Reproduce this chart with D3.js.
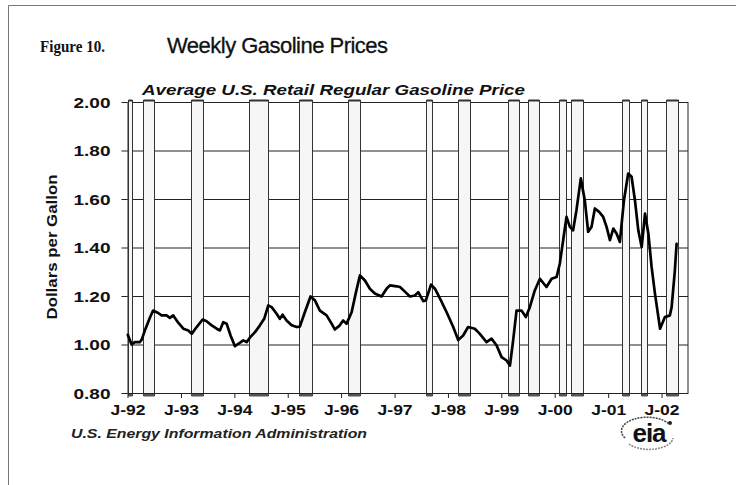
<!DOCTYPE html>
<html><head><meta charset="utf-8">
<script src="https://cdn.jsdelivr.net/npm/d3@7"></script>
<style>body{margin:0;background:#fff}svg{display:block}</style>
</head><body>
<svg id="c" width="736" height="485"></svg>
<script>
// ---- data ----
const weekDates = ["1992-01-03","1992-01-29","1992-02-20","1992-03-26","1992-04-07","1992-04-30","1992-06-02","1992-06-24","1992-07-29","1992-08-21","1992-09-24","1992-10-17","1992-11-09","1992-12-13",
"1993-01-17","1993-02-20","1993-03-15","1993-04-18","1993-05-29","1993-06-25","1993-07-30","1993-09-02","1993-09-24","1993-10-17","1993-11-09","1993-12-06",
"1994-01-05","1994-01-28","1994-03-03","1994-03-26","1994-04-17","1994-05-22","1994-06-25","1994-07-24","1994-08-21","1994-09-13","1994-10-17","1994-11-08","1994-11-27","1994-12-24",
"1995-01-28","1995-03-03","1995-03-25","1995-04-28","1995-06-06","1995-07-06","1995-08-09","1995-09-24","1995-10-28","1995-11-19","1995-12-23",
"1996-01-15","1996-02-08","1996-03-13","1996-04-12","1996-05-09","1996-06-12","1996-07-16","1996-08-19","1996-10-04","1996-11-07","1996-11-30",
"1997-01-16","1997-02-07","1997-03-16","1997-04-16","1997-05-20","1997-06-12","1997-07-16","1997-08-03","1997-09-07","1997-10-04","1997-11-07","1997-12-23",
"1998-02-06","1998-03-12","1998-04-15","1998-05-19","1998-07-04","1998-08-07","1998-09-22","1998-10-26","1998-11-30",
"1999-01-03","1999-02-06","1999-03-01","1999-03-23","1999-04-15","1999-05-19","1999-06-18","1999-07-15","1999-08-18","1999-09-22","1999-11-06","1999-12-11",
"2000-01-14","2000-02-05","2000-02-28","2000-03-22","2000-04-14","2000-05-06","2000-05-29","2000-06-28","2000-07-25","2000-08-17","2000-09-09","2000-10-02","2000-10-31","2000-11-28","2000-12-21",
"2001-01-13","2001-02-05","2001-02-28","2001-03-22","2001-04-19","2001-05-18","2001-06-10","2001-07-03","2001-07-26","2001-08-18","2001-09-10","2001-10-03","2001-10-25","2001-11-17","2001-12-22",
"2002-01-24","2002-02-27","2002-03-11","2002-04-02","2002-04-14"];
const prices = [1.04,1.00,1.01,1.01,1.02,1.06,1.11,1.14,1.13,1.12,1.12,1.11,1.12,1.09,
1.065,1.058,1.044,1.072,1.103,1.096,1.079,1.065,1.058,1.092,1.086,1.037,
0.993,1.003,1.017,1.01,1.028,1.051,1.079,1.106,1.161,1.154,1.127,1.106,1.123,1.099,
1.079,1.072,1.074,1.133,1.198,1.182,1.14,1.12,1.086,1.062,1.079,
1.099,1.086,1.133,1.216,1.285,1.264,1.23,1.21,1.198,1.23,1.244,
1.24,1.237,1.216,1.198,1.202,1.216,1.179,1.182,1.247,1.23,1.19,1.133,
1.072,1.019,1.037,1.072,1.065,1.044,1.01,1.024,0.996,
0.948,0.934,0.913,1.017,1.14,1.14,1.113,1.154,1.223,1.271,1.237,1.271,
1.278,1.333,1.43,1.526,1.485,1.471,1.554,1.685,1.595,1.465,1.485,1.561,1.547,1.526,1.485,
1.43,1.478,1.457,1.423,1.595,1.705,1.692,1.595,1.471,1.402,1.54,1.457,1.32,1.21,1.065,
1.113,1.12,1.154,1.304,1.415];
const bandStarts = ["1992-01-01","1992-04-16","1993-03-10","1994-04-10","1995-03-18","1996-02-16","1997-08-04","1998-03-10","1999-02-16","1999-07-02","2000-01-30","2000-04-21","2001-04-05","2001-08-13","2002-01-31"];
const bandEnds   = ["1992-01-31","1992-07-01","1993-05-30","1994-08-19","1995-06-17","1996-05-09","1997-09-13","1998-05-31","1999-05-02","1999-09-16","2000-03-18","2000-07-13","2001-05-23","2001-09-24","2002-04-23"];
const yTicks = [0.80,1.00,1.20,1.40,1.60,1.80,2.00];
const xTickDates = ["1992-01-01","1993-01-01","1994-01-01","1995-01-01","1996-01-01","1997-01-01","1998-01-01","1999-01-01","2000-01-01","2001-01-01","2002-01-01"];
const xTickLabels = ["J-92","J-93","J-94","J-95","J-96","J-97","J-98","J-99","J-00","J-01","J-02"];

// ---- chart ----
const parse = d3.timeParse("%Y-%m-%d");
const svg = d3.select("#c");
const L = 127.5, R = 688, T = 102, B = 393;
const x = d3.scaleTime().domain([parse("1992-01-01"), parse("2002-07-01")]).range([L, R]);
const y = d3.scaleLinear().domain([0.8, 2.0]).range([B, T]);
const SANS = "'Liberation Sans', Arial, sans-serif";

svg.append("rect").attr("width",736).attr("height",485).attr("fill","#fff");
// page frame
svg.append("path").attr("d","M8.5,485V5.5H736").attr("fill","none").attr("stroke","#777").attr("stroke-width",1);

// titles
svg.append("text").attr("x",40).attr("y",52).attr("font-family","'Liberation Serif', 'Times New Roman', serif")
  .attr("font-weight","bold").attr("font-size",17).attr("textLength",65).attr("lengthAdjust","spacingAndGlyphs")
  .attr("fill","#111").text("Figure 10.");
svg.append("text").attr("x",167).attr("y",53).attr("font-family",SANS).attr("font-size",22)
  .attr("textLength",221).attr("lengthAdjust","spacing").attr("fill","#111")
  .attr("stroke","#111").attr("stroke-width",0.3).text("Weekly Gasoline Prices");
svg.append("text").attr("x",142).attr("y",95).attr("font-family",SANS).attr("font-size",15)
  .attr("font-weight","bold").attr("font-style","italic").attr("textLength",383).attr("lengthAdjust","spacingAndGlyphs")
  .attr("fill","#111").text("Average U.S. Retail Regular Gasoline Price");

// gridlines
const grid = svg.append("g").attr("transform",`translate(${L},0)`)
  .call(d3.axisLeft(y).tickValues(yTicks).tickSize(-(R-L)).tickFormat(""));
grid.select(".domain").remove();
grid.selectAll(".tick line").attr("stroke","#222").attr("stroke-width",1.1);

// y axis with labels
const ya = svg.append("g").attr("transform",`translate(${L},0)`)
  .call(d3.axisLeft(y).tickValues(yTicks).tickSize(6).tickSizeOuter(0).tickPadding(11).tickFormat(d3.format(".2f")));
ya.select(".domain").attr("stroke","#222");
ya.selectAll(".tick line").attr("stroke","#222");
ya.selectAll("text").attr("font-family",SANS).attr("font-size",14).attr("font-weight","bold")
  .attr("fill","#111").attr("textLength",37).attr("lengthAdjust","spacingAndGlyphs").attr("dy","0.36em");

// right border
svg.append("line").attr("x1",R).attr("x2",R).attr("y1",T).attr("y2",B).attr("stroke","#222");

// bands
const bandData = bandStarts.map((s,i)=>({a:parse(s), b:parse(bandEnds[i])}));
const bg = svg.append("g").selectAll("g").data(bandData).join("g");
bg.append("rect").attr("x",d=>Math.round(x(d.a))+0.5).attr("y",100.5)
  .attr("width",d=>Math.max(3,Math.round(x(d.b)-x(d.a))))
  .attr("height",B-100+2).attr("fill","#f6f6f6").attr("stroke","#333").attr("stroke-width",1);
bg.append("rect").attr("x",d=>Math.round(x(d.a))+0.5).attr("y",99.5)
  .attr("width",d=>Math.max(3,Math.round(x(d.b)-x(d.a)))).attr("height",2).attr("fill","#333");
bg.append("rect").attr("x",d=>Math.round(x(d.a))+0.5).attr("y",B+1)
  .attr("width",d=>Math.max(3,Math.round(x(d.b)-x(d.a)))).attr("height",2.5).attr("fill","#555");

// x axis
const xa = svg.append("g").attr("transform",`translate(0,${B})`)
  .call(d3.axisBottom(x).tickValues(xTickDates.map(parse)).tickSize(5).tickSizeOuter(0).tickPadding(7)
    .tickFormat((d,i)=>xTickLabels[i]));
xa.select(".domain").attr("stroke","#222");
xa.selectAll(".tick line").attr("stroke","#222");
xa.selectAll("text").attr("font-family",SANS).attr("font-size",14).attr("font-weight","bold")
  .attr("fill","#111").attr("textLength",35).attr("lengthAdjust","spacingAndGlyphs");

// y-axis title
svg.append("text").attr("transform","translate(57,247) rotate(-90)").attr("text-anchor","middle")
  .attr("font-family",SANS).attr("font-size",14).attr("font-weight","bold").attr("fill","#111")
  .attr("textLength",145).attr("lengthAdjust","spacingAndGlyphs").text("Dollars per Gallon");

// price line
const series = weekDates.map((d,i)=>({date:parse(d), v:prices[i]}));
svg.append("path").datum(series)
  .attr("d", d3.line().x(d=>x(d.date)).y(d=>y(d.v)))
  .attr("fill","none").attr("stroke","#000").attr("stroke-width",2.7)
  .attr("stroke-linejoin","round").attr("stroke-linecap","round");

// footer
svg.append("text").attr("x",71).attr("y",438).attr("font-family",SANS).attr("font-size",12.5)
  .attr("font-weight","bold").attr("font-style","italic").attr("fill","#222")
  .attr("textLength",296).attr("lengthAdjust","spacingAndGlyphs").text("U.S. Energy Information Administration");

// eia logo
const logo = svg.append("g").attr("transform","translate(649,434)");
logo.append("path").attr("d","M-24,4 A24,13 0 0 1 20,-10").attr("fill","none").attr("stroke","#444").attr("stroke-width",1.5).attr("stroke-dasharray","2,1");
logo.append("circle").attr("cx",21).attr("cy",-11).attr("r",2).attr("fill","#222");
logo.append("path").attr("d","M-20,10 A24,12 0 0 0 24,4").attr("fill","none").attr("stroke","#888").attr("stroke-width",1.5).attr("stroke-dasharray","2,1");
logo.append("text").attr("x",0).attr("y",8).attr("text-anchor","middle").attr("font-family",SANS)
  .attr("font-weight","bold").attr("font-size",26).attr("fill","#111").attr("letter-spacing","-1").text("eia");
</script>
</body></html>
